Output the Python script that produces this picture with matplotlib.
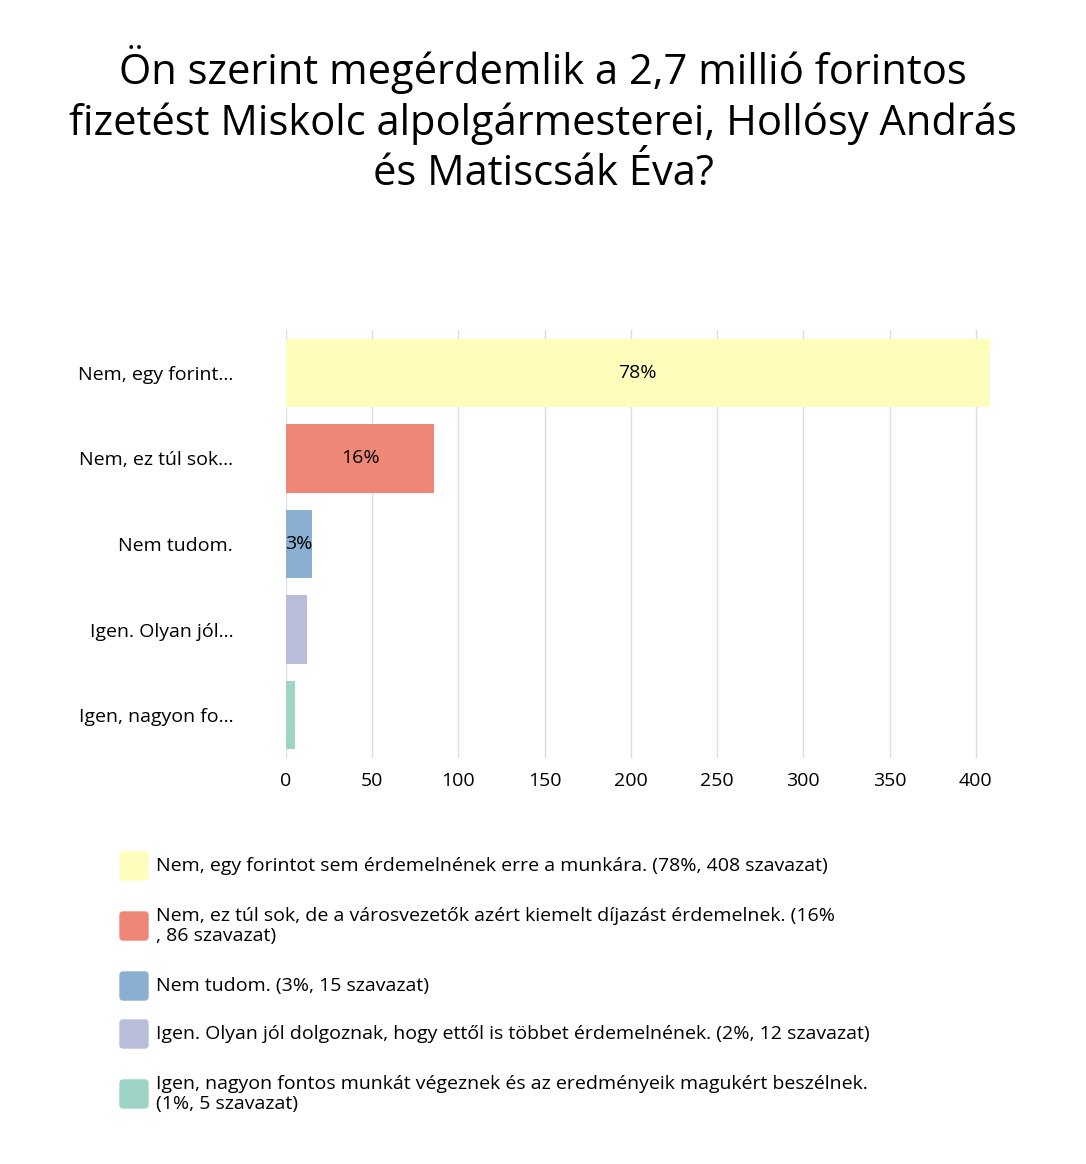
import matplotlib
matplotlib.use("Agg")
import matplotlib.pyplot as plt
from matplotlib.patches import FancyBboxPatch

plt.rcParams['font.family'] = ['Open Sans', 'DejaVu Sans']

categories = ["Nem, egy forint...", "Nem, ez túl sok...", "Nem tudom.", "Igen. Olyan jól...", "Igen, nagyon fo..."]
values = [408, 86, 15, 12, 5]
pct_labels = ["78%", "16%", "3%", "", ""]
colors = ["#FFFDBB", "#EE8775", "#8AAFD0", "#B9BDDA", "#9ED4C5"]
legend_labels = [
    "Nem, egy forintot sem érdemelnének erre a munkára. (78%, 408 szavazat)",
    "Nem, ez túl sok, de a városvezetők azért kiemelt díjazást érdemelnek. (16%\n, 86 szavazat)",
    "Nem tudom. (3%, 15 szavazat)",
    "Igen. Olyan jól dolgoznak, hogy ettől is többet érdemelnének. (2%, 12 szavazat)",
    "Igen, nagyon fontos munkát végeznek és az eredményeik magukért beszélnek.\n(1%, 5 szavazat)",
]
xticks = [0, 50, 100, 150, 200, 250, 300, 350, 400]

W, H = 1086, 1164
fig = plt.figure(figsize=(W/100, H/100), dpi=100)
fig.text(0.5, 1-120/H, "Ön szerint megérdemlik a 2,7 millió forintos\nfizetést Miskolc alpolgármesterei, Hollósy András\nés Matiscsák Éva?",
         ha='center', va='center', fontsize=30, linespacing=1.25)

ax = fig.add_axes([286/W, 1-758/H, (993-286)/W, (758-330)/H])
y = list(range(len(categories)))
ax.barh(y, values, height=0.8, color=colors, zorder=2)
for yi, v, p in zip(y, values, pct_labels):
    if p:
        ax.text(v/2, yi, p, ha='center', va='center', fontsize=14, zorder=3)
ax.set_yticks(y)
ax.set_yticklabels(categories, fontsize=14)
ax.set_ylim(4.5, -0.5)
ax.set_xlim(0, 410)
ax.set_xticks(xticks)
ax.tick_params(axis='x', labelsize=14, length=0, pad=10)
ax.tick_params(axis='y', length=0, pad=38)
ax.grid(axis='x', color='#dddddd', lw=1, zorder=0)
for s in ax.spines.values():
    s.set_visible(False)

ys = [866, 926, 986, 1034, 1094]
for yp, c, lab in zip(ys, colors, legend_labels):
    fig.patches.append(FancyBboxPatch((120/W, 1-(yp+14)/H), 28/W, 28/H,
                                      boxstyle="round,pad=0,rounding_size=0.003",
                                      transform=fig.transFigure, color=c))
    fig.text(156/W, 1-yp/H, lab, ha='left', va='center', fontsize=14, linespacing=1.15)

fig.savefig("out.png", dpi=100, facecolor='white')
